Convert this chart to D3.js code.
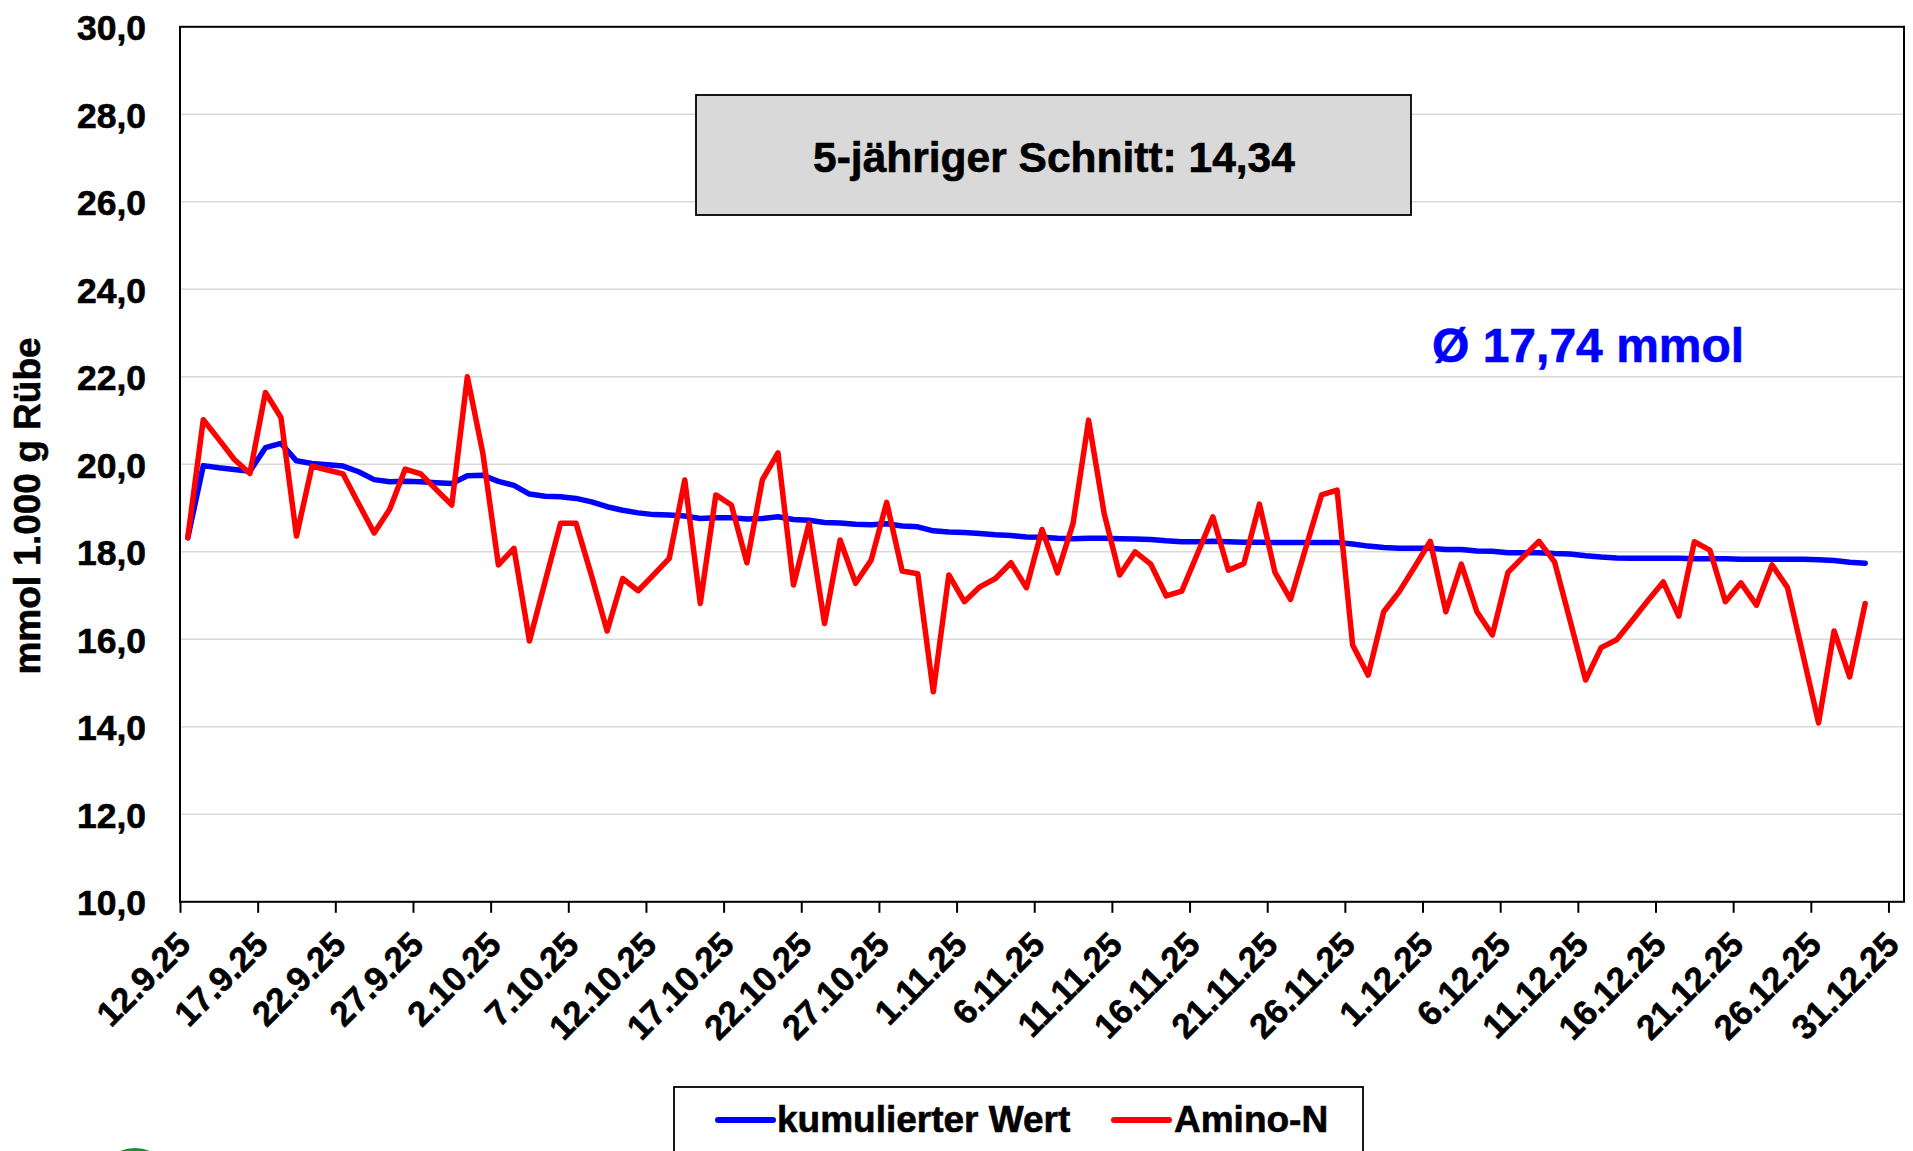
<!DOCTYPE html>
<html><head><meta charset="utf-8">
<script src="https://cdn.jsdelivr.net/npm/d3@7"></script>
<style>html,body{margin:0;padding:0;background:#fff;}svg{display:block;}</style>
</head><body>
<svg id="chart" width="1913" height="1151"></svg>
<script>
// ---- data ----
const startDate = "2025-09-12";
const axisEnd = "2026-01-01";
const aminoN = [18.32,21.02,20.57,20.11,19.79,21.64,21.07,18.36,19.96,19.87,
19.78,19.10,18.43,18.97,19.89,19.78,19.42,19.07,22.00,20.25,
17.70,18.08,15.96,17.31,18.65,18.65,17.45,16.19,17.39,17.11,
17.48,17.85,19.64,16.82,19.30,19.07,17.75,19.65,20.26,17.24,
18.65,16.36,18.27,17.28,17.81,19.13,17.56,17.50,14.80,17.47,
16.86,17.20,17.39,17.75,17.18,18.51,17.52,18.65,21.01,18.88,
17.47,18.00,17.72,16.99,17.10,17.95,18.80,17.58,17.73,19.09,
17.53,16.91,18.11,19.30,19.41,15.87,15.18,16.63,17.09,17.66,
18.24,16.63,17.72,16.63,16.10,17.53,17.89,18.24,17.77,16.43,
15.07,15.81,15.99,16.43,16.88,17.31,16.53,18.23,18.04,16.86,
17.29,16.78,17.70,17.18,15.64,14.09,16.19,15.14,16.82];
const kumuliert = [18.32,19.97,19.92,19.88,19.84,20.38,20.48,20.08,20.02,19.99,
19.96,19.83,19.65,19.60,19.61,19.60,19.58,19.56,19.74,19.75,
19.61,19.52,19.32,19.27,19.26,19.22,19.14,19.03,18.95,18.89,
18.85,18.84,18.82,18.76,18.78,18.78,18.75,18.76,18.80,18.74,
18.72,18.67,18.66,18.63,18.62,18.64,18.59,18.57,18.48,18.45,
18.44,18.42,18.39,18.37,18.34,18.33,18.31,18.30,18.31,18.31,
18.30,18.29,18.28,18.25,18.23,18.23,18.24,18.23,18.22,18.22,
18.21,18.21,18.21,18.21,18.21,18.18,18.13,18.10,18.08,18.08,
18.08,18.05,18.05,18.02,18.01,17.98,17.98,17.98,17.96,17.95,
17.91,17.88,17.86,17.85,17.85,17.85,17.85,17.84,17.84,17.84,
17.83,17.83,17.83,17.83,17.83,17.82,17.80,17.76,17.74];
const xTickLabels = ["12.9.25","17.9.25","22.9.25","27.9.25","2.10.25","7.10.25","12.10.25",
"17.10.25","22.10.25","27.10.25","1.11.25","6.11.25","11.11.25","16.11.25","21.11.25",
"26.11.25","1.12.25","6.12.25","11.12.25","16.12.25","21.12.25","26.12.25","31.12.25"];
const yTicks = [10,12,14,16,18,20,22,24,26,28,30];
const seriesNames = ["kumulierter Wert","Amino-N"];
const seriesColors = ["#0000ff","#ff0000"];
const boxText = "5-jähriger Schnitt: 14,34";
const avgText = "Ø 17,74 mmol";
const yTitle = "mmol 1.000 g Rübe";

// ---- layout ----
const FONT = "'Liberation Sans', Arial, Helvetica, sans-serif";
const L = 180, R = 1904, T = 26.8, B = 901.8;
const svg = d3.select("#chart").style("font-family", FONT);

const parse = d3.utcParse("%Y-%m-%d");
const t0 = parse(startDate), t1 = parse(axisEnd);
const dates = aminoN.map((_, i) => d3.utcDay.offset(t0, i));
const parseTick = s => { const p = s.split("."); return Date.UTC(2000 + +p[2], +p[1] - 1, +p[0]); };
const tickDates = xTickLabels.map(s => new Date(parseTick(s)));

const x = d3.scaleUtc().domain([t0, t1]).range([L, R]);
const y = d3.scaleLinear().domain([10, 30]).range([B, T]);
const mid = d => new Date(+d + 12 * 3600e3);

const heavy = sel => sel.attr("stroke", "#000").attr("stroke-width", 0.6).attr("paint-order", "stroke");

// gridlines
svg.append("g").selectAll("line").data(yTicks.filter(v => v > 10 && v < 30)).join("line")
  .attr("x1", L).attr("x2", R).attr("y1", d => y(d)).attr("y2", d => y(d))
  .attr("stroke", "#d9d9d9").attr("stroke-width", 1.6);

// y axis labels
const yAxis = svg.append("g").attr("transform", `translate(${L},0)`)
  .call(d3.axisLeft(y).tickValues(yTicks).tickSize(0).tickPadding(34)
    .tickFormat(d => d3.format(".1f")(d).replace(".", ",")));
yAxis.select(".domain").remove();
yAxis.selectAll("text").attr("font-size", 35.5).attr("font-weight", "bold")
  .attr("font-family", FONT).attr("fill", "#000").attr("dy", "0.36em").call(heavy);

// x axis
const xAxis = svg.append("g").attr("transform", `translate(0,${B})`)
  .call(d3.axisBottom(x).tickValues(tickDates).tickSize(11).tickFormat((d, i) => xTickLabels[i]));
xAxis.select(".domain").remove();
xAxis.selectAll("line").attr("stroke", "#000").attr("stroke-width", 2);
xAxis.selectAll("text").attr("y", null).attr("dy", null)
  .attr("transform", "translate(12,45) rotate(-45)").attr("text-anchor", "end")
  .attr("font-size", 34.5).attr("font-weight", "bold").attr("font-family", FONT).attr("fill", "#000").call(heavy);

// lines
const line = d3.line().x((d, i) => x(mid(dates[i]))).y(d => y(d));
[kumuliert, aminoN].forEach((s, k) => {
  svg.append("path").datum(s).attr("d", line).attr("fill", "none")
    .attr("stroke", seriesColors[k]).attr("stroke-width", 5.5)
    .attr("stroke-linejoin", "round").attr("stroke-linecap", "round");
});

// plot border
svg.append("rect").attr("x", L).attr("y", T).attr("width", R - L).attr("height", B - T)
  .attr("fill", "none").attr("stroke", "#000").attr("stroke-width", 2);

// annotation box
svg.append("rect").attr("x", 696).attr("y", 95).attr("width", 715).attr("height", 120)
  .attr("fill", "#d9d9d9").attr("stroke", "#000").attr("stroke-width", 1.8);
svg.append("text").attr("x", 1054).attr("y", 172).attr("text-anchor", "middle")
  .attr("font-size", 42.5).attr("font-weight", "bold").call(heavy).text(boxText);

// average text
svg.append("text").attr("x", 1432).attr("y", 362).attr("fill", "#0000ff")
  .attr("font-size", 48).attr("font-weight", "bold")
  .attr("stroke", "#0000ff").attr("stroke-width", 0.6).text(avgText);

// y title
svg.append("text").attr("transform", "translate(40,506) rotate(-90)").attr("text-anchor", "middle")
  .attr("font-size", 37).attr("font-weight", "bold").call(heavy).text(yTitle);

// legend
svg.append("rect").attr("x", 674).attr("y", 1087).attr("width", 689).attr("height", 100)
  .attr("fill", "#fff").attr("stroke", "#000").attr("stroke-width", 1.8);
const legX = [[718, 773, 777], [1114, 1169, 1174]];
seriesNames.forEach((n, k) => {
  svg.append("line").attr("x1", legX[k][0]).attr("x2", legX[k][1]).attr("y1", 1120).attr("y2", 1120)
    .attr("stroke", seriesColors[k]).attr("stroke-width", 6).attr("stroke-linecap", "round");
  svg.append("text").attr("x", legX[k][2]).attr("y", 1132).attr("font-size", 37)
    .attr("font-weight", "bold").call(heavy).text(n);
});

// logo sliver
svg.append("circle").attr("cx", 135).attr("cy", 1187).attr("r", 39).attr("fill", "#1f8a3c");
</script>
</body></html>
